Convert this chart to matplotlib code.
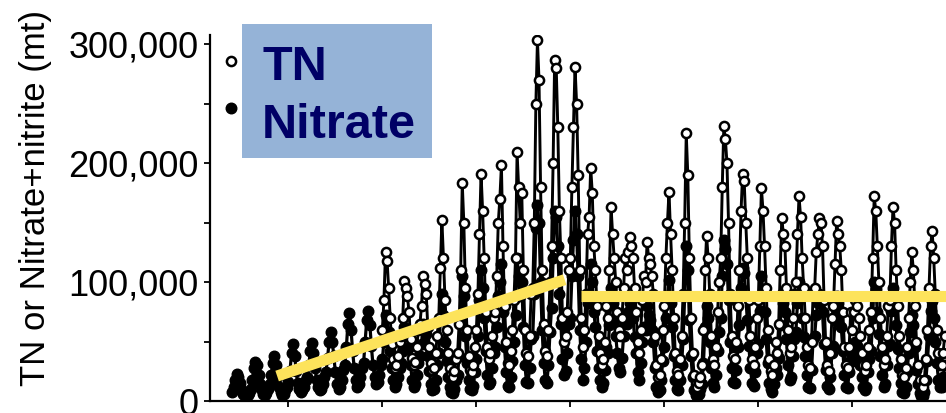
import numpy as np
import matplotlib.pyplot as plt
from matplotlib.lines import Line2D
from matplotlib.patches import Rectangle

plt.rcParams['font.family'] = ['Liberation Sans', 'DejaVu Sans']

# --- Monthly loads (thousand mt), one row per year, Jan..Dec ---
nitrate_start = 1952
nitrate_k = [
    [8, 12, 18, 23, 20, 15, 10, 6, 4, 3, 5, 7],          # 1952
    [10, 18, 28, 33, 30, 22, 14, 9, 6, 5, 7, 10],
    [14, 22, 32, 38, 30, 20, 12, 8, 5, 6, 9, 12],
    [16, 25, 40, 48, 38, 25, 15, 10, 8, 9, 12, 18],
    [20, 30, 42, 49, 40, 28, 18, 12, 9, 10, 14, 20],
    [24, 36, 50, 58, 50, 38, 24, 14, 10, 12, 18, 26],
    [30, 45, 65, 74, 60, 42, 28, 18, 12, 14, 20, 28],
    [32, 50, 68, 76, 64, 46, 30, 20, 14, 16, 22, 30],
    [35, 50, 72, 70, 58, 42, 28, 18, 12, 14, 20, 28],    # 1960
    [32, 42, 62, 60, 55, 45, 30, 18, 12, 14, 22, 32],
    [38, 48, 65, 62, 56, 38, 25, 14, 9, 10, 18, 30],
    [40, 68, 90, 72, 50, 34, 20, 12, 8, 7, 10, 18],
    [22, 38, 65, 105, 88, 55, 32, 18, 10, 9, 13, 24],
    [35, 55, 85, 110, 95, 70, 42, 22, 14, 16, 28, 40],
    [45, 62, 88, 100, 115, 75, 45, 24, 13, 12, 20, 34],
    [50, 72, 120, 105, 88, 100, 62, 30, 16, 15, 28, 52],
    [55, 90, 145, 165, 150, 100, 60, 32, 18, 15, 30, 58],
    [78, 120, 160, 155, 130, 90, 65, 35, 22, 25, 40, 65],
    [70, 105, 135, 160, 140, 105, 60, 35, 18, 28, 50, 82],  # 1970
    [90, 115, 100, 75, 62, 42, 28, 18, 12, 15, 26, 45],
    [40, 64, 95, 82, 68, 55, 40, 28, 24, 36, 55, 70],
    [65, 75, 82, 78, 70, 54, 40, 24, 18, 32, 50, 62],
    [60, 80, 72, 68, 60, 50, 28, 12, 8, 9, 18, 34],
    [45, 70, 88, 102, 82, 62, 38, 18, 10, 9, 18, 30],
    [52, 88, 130, 110, 68, 38, 20, 9, 5, 4, 6, 10],
    [14, 32, 62, 80, 70, 50, 28, 15, 12, 22, 42, 58],
    [70, 105, 135, 128, 115, 85, 50, 28, 16, 15, 26, 45],
    [64, 95, 112, 108, 88, 68, 46, 28, 15, 13, 24, 40],
    [48, 76, 105, 92, 75, 52, 32, 15, 10, 8, 14, 28],    # 1980
    [22, 36, 64, 90, 82, 75, 52, 30, 18, 20, 38, 52],
    [58, 82, 100, 90, 70, 54, 38, 22, 12, 11, 26, 52],
    [55, 72, 82, 90, 88, 75, 48, 26, 13, 10, 20, 40],
    [46, 68, 88, 82, 76, 62, 42, 22, 12, 11, 24, 44],
    [34, 44, 50, 46, 40, 30, 20, 12, 9, 12, 24, 35],
    [42, 70, 100, 94, 75, 56, 38, 22, 12, 14, 30, 46],
    [48, 76, 95, 88, 64, 44, 28, 15, 8, 7, 12, 24],
    [40, 58, 72, 64, 45, 26, 14, 7, 4, 4, 8, 18],
    [34, 55, 76, 84, 70, 50, 32, 18, 12, 12, 20, 30],    # 1989
]

tn_start = 1960
tn_k = [
    [60, 85, 125, 118, 95, 70, 48, 35, 28, 30, 38, 50],      # 1960
    [55, 70, 101, 95, 88, 75, 52, 36, 30, 33, 45, 60],
    [65, 80, 105, 98, 90, 62, 45, 32, 26, 28, 40, 55],
    [70, 112, 152, 120, 85, 60, 40, 28, 22, 20, 25, 35],
    [40, 65, 110, 183, 150, 95, 60, 38, 26, 24, 30, 45],
    [60, 90, 140, 191, 160, 120, 75, 45, 35, 40, 55, 70],
    [75, 105, 150, 170, 198, 130, 80, 50, 32, 30, 42, 60],
    [85, 120, 209, 180, 150, 175, 110, 60, 40, 38, 55, 90],
    [95, 150, 250, 303, 270, 180, 110, 65, 42, 38, 60, 100],
    [130, 200, 287, 280, 230, 160, 120, 70, 50, 55, 75, 110],
    [120, 180, 230, 281, 250, 190, 110, 70, 45, 60, 90, 140],  # 1970
    [155, 196, 175, 130, 110, 80, 55, 40, 30, 35, 50, 80],
    [70, 110, 163, 140, 120, 100, 75, 60, 55, 70, 95, 120],
    [110, 125, 138, 130, 120, 95, 75, 50, 40, 60, 85, 105],
    [100, 134, 120, 115, 105, 90, 55, 30, 20, 22, 35, 60],
    [80, 120, 150, 176, 140, 110, 70, 40, 25, 22, 35, 55],
    [90, 150, 225, 190, 120, 70, 40, 22, 14, 12, 15, 20],
    [30, 60, 110, 139, 120, 90, 55, 35, 30, 45, 75, 100],
    [120, 180, 231, 220, 200, 150, 90, 55, 38, 35, 50, 80],
    [110, 160, 191, 185, 150, 120, 85, 55, 35, 30, 45, 70],
    [85, 130, 179, 160, 130, 95, 60, 35, 25, 22, 30, 50],     # 1980
    [40, 65, 110, 154, 140, 130, 95, 60, 40, 45, 70, 90],
    [100, 140, 172, 155, 120, 95, 70, 45, 30, 28, 50, 90],
    [95, 125, 140, 154, 150, 130, 85, 50, 30, 25, 40, 70],
    [80, 115, 151, 140, 130, 110, 75, 45, 30, 28, 45, 75],
    [60, 75, 85, 80, 70, 55, 40, 30, 25, 30, 45, 60],
    [75, 120, 172, 160, 130, 100, 70, 45, 30, 35, 55, 80],
    [85, 130, 163, 150, 110, 80, 55, 35, 22, 20, 28, 45],
    [70, 100, 125, 110, 80, 50, 30, 18, 12, 12, 18, 35],
    [60, 95, 130, 143, 120, 90, 60, 40, 30, 30, 40, 55],      # 1989
]

# trend segments drawn over the data (year, mt)
trend_early_x = [1954.4, 1969.7]
trend_early_y = [21000, 102000]
trend_late_x = [1970.55, 1992.0]
trend_late_y = [88000, 88000]

x_ticks = [1955, 1960, 1965, 1970, 1975, 1980, 1985]
y_ticks = [0, 100000, 200000, 300000]
y_minor = [50000, 150000, 250000]
y_labels = ['0', '100,000', '200,000', '300,000']

# --- Flatten to monthly series ---
nitrate = np.array(nitrate_k).ravel() * 1000
t_nitrate = nitrate_start + np.arange(len(nitrate)) / 12
tn = np.array(tn_k).ravel() * 1000
t_tn = tn_start + np.arange(len(tn)) / 12

fig = plt.figure(figsize=(9.46, 4.13), dpi=100)
ax = fig.add_axes([0.222, 0.029, 0.818, 0.8874])

ax.plot(t_nitrate, nitrate, color='black', lw=2.3, marker='o', ms=7.6,
        mfc='black', mec='black', zorder=2)
ax.plot(t_tn, tn, color='black', lw=2.1, marker='o', ms=6.6,
        mfc='white', mec='black', mew=1.8, zorder=3)

ax.plot(trend_early_x, trend_early_y, color='#FDE35B', lw=8,
        solid_capstyle='butt', zorder=4)
ax.plot(trend_late_x, trend_late_y, color='#FDE35B', lw=8,
        solid_capstyle='butt', zorder=4)

ax.set_xlim(1950.83, 1992)
ax.set_ylim(0, 308000)

ax.spines['top'].set_visible(False)
ax.spines['right'].set_visible(False)
for s in ['left', 'bottom']:
    ax.spines[s].set_linewidth(1.6)

ax.set_xticks(x_ticks)
ax.set_yticks(y_ticks)
ax.set_yticklabels(y_labels)
ax.set_yticks(y_minor, minor=True)
ax.tick_params(axis='x', length=4, width=1.3, labelbottom=False)
ax.tick_params(axis='y', which='both', length=4, width=1.3,
               labelsize=26, pad=4)

ax.set_ylabel('TN or Nitrate+nitrite (mt)', fontsize=25)
ax.yaxis.set_label_coords(-0.204, 0.555)

# legend keys only (the key text is the blue box)
handles = [
    Line2D([], [], ls='none', marker='o', ms=6.6, mfc='white', mec='black', mew=1.8),
    Line2D([], [], ls='none', marker='o', ms=7.6, mfc='black', mec='black'),
]
ax.legend(handles, ['', ''], loc='upper left',
          bbox_to_anchor=(0.016, 0.965), frameon=False, fontsize=25,
          handlelength=0.5, handletextpad=0.4, borderpad=0,
          borderaxespad=0, labelspacing=0.4)

# blue key box
fig.add_artist(Rectangle((0.2558, 0.6174), 0.2008, 0.3245,
                         transform=fig.transFigure, facecolor='#95B3D7',
                         edgecolor='none', zorder=5))
fig.text(0.277, 0.806, 'TN', fontsize=35, fontweight='bold',
         color='#000066', va='baseline', zorder=6)
fig.text(0.277, 0.666, 'Nitrate', fontsize=35, fontweight='bold',
         color='#000066', va='baseline', zorder=6)

fig.savefig('out.png', dpi=100)
